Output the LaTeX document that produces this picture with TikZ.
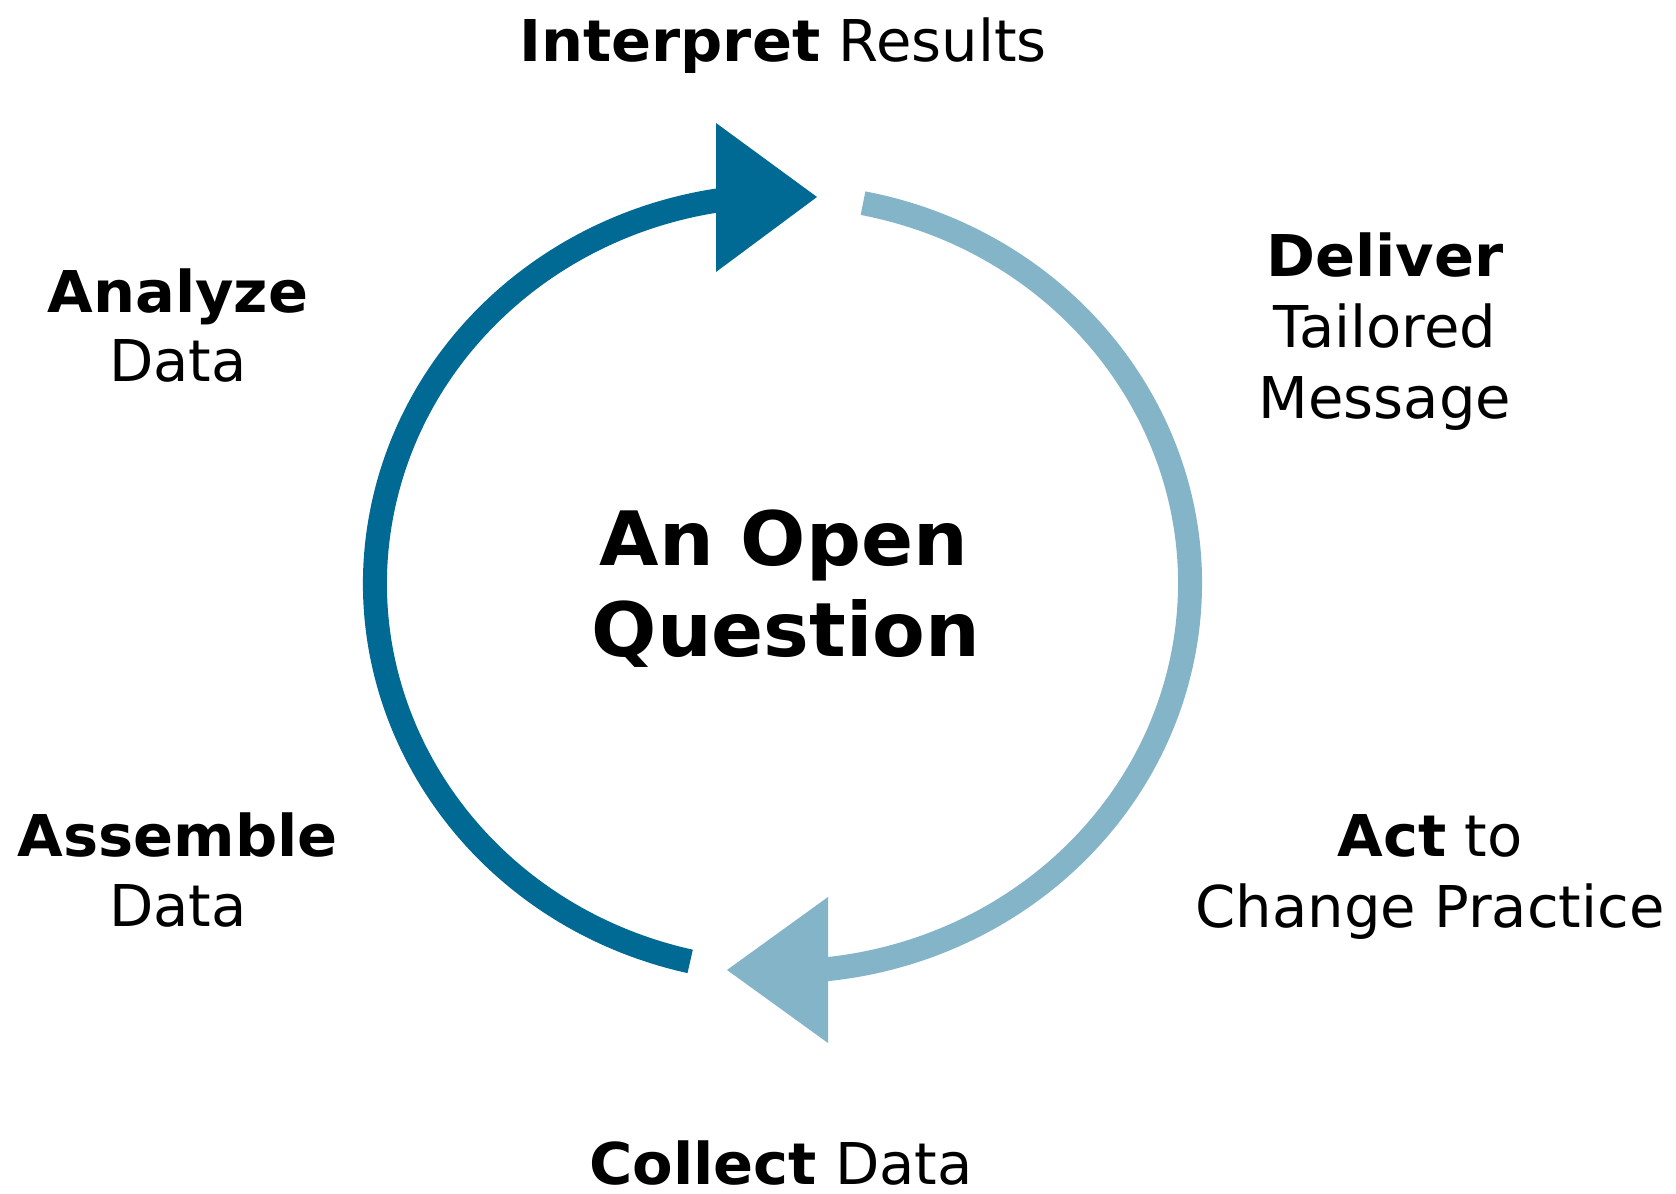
\documentclass[tikz,border=0pt]{standalone}
\usepackage{fontspec}
\setmainfont{DejaVu Sans}[BoldFeatures={FakeStretch=1.025}]
\definecolor{darkteal}{RGB}{0,106,148}
\definecolor{lightteal}{RGB}{132,180,200}
\begin{document}
\begin{tikzpicture}[x=0.5pt,y=0.5pt,
  lbl/.style={inner sep=0pt,anchor=base,font=\fontsize{28.8}{34}\selectfont},
  ctr/.style={inner sep=0pt,anchor=base,font=\bfseries\fontsize{37.5}{42}\selectfont},
  ring/.style={line width=12pt}]
\useasboundingbox (0,0) rectangle (1676,1194);
\fill[white] (0,0) rectangle (1676,1194);
\coordinate (c) at (782.5,610.5);
% dark arc (left half) with arrowhead at top
\draw[ring,darkteal] ([shift={(256.9:203.75pt and 194pt)}]c)
  arc[start angle=256.9,end angle=97,x radius=203.75pt,y radius=194pt];
\coordinate (toptip) at (817,997);
\fill[darkteal] (716,1071) -- (toptip) -- (716,922) -- cycle;
% light arc (right half) with arrowhead at bottom
\draw[ring,lightteal] ([shift={(78.6:203.75pt and 194pt)}]c)
  arc[start angle=78.6,end angle=-86,x radius=203.75pt,y radius=194pt];
\coordinate (bottip) at (727,224);
\fill[lightteal] (828,297) -- (bottip) -- (828,151) -- cycle;
% labels
\node[lbl] (interp) at (783,1132) {\textbf{Interpret} Results};
\node[lbl] (deliverA) at (1385,917) {\textbf{Deliver}};
\node[lbl] (deliverB) at (1385,846) {Tailored};
\node[lbl] (deliverC) at (1385,775) {Message};
\node[lbl] (analyzeA) at (178,881) {\textbf{Analyze}};
\node[lbl] (analyzeB) at (178,812) {Data};
\node[lbl] (assembleA) at (178,337) {\textbf{Assemble}};
\node[lbl] (assembleB) at (178,267) {Data};
\node[lbl] (actA) at (1430,337) {\textbf{Act} to};
\node[lbl] (actB) at (1430,266) {Change Practice};
\node[lbl] (collect) at (781,10) {\textbf{Collect} Data};
\node[ctr] (qA) at (784,628) {An Open};
\node[ctr] (qB) at (786,537) {Question};
\end{tikzpicture}
\end{document}
